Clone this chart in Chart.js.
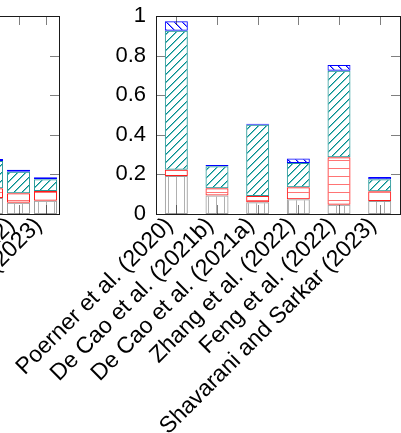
<!DOCTYPE html>
<html>
<head>
<meta charset="utf-8">
<script src="https://cdn.jsdelivr.net/npm/chart.js@4.4.0/dist/chart.umd.min.js"></script>
<style>
  html, body { margin: 0; padding: 0; background: #fff; overflow: hidden; }
  body { width: 401px; height: 433px; position: relative; }
  canvas { position: absolute; top: 0; }
  #leftChart { left: -170px; }
  #mainChart { left: 0; }
</style>
</head>
<body>
<canvas id="leftChart" width="230" height="433"></canvas>
<canvas id="mainChart" width="401" height="433"></canvas>
<script>
const categories = [
  "Poerner et al. (2020)",
  "De Cao et al. (2021b)",
  "De Cao et al. (2021a)",
  "Zhang et al. (2022)",
  "Feng et al. (2022)",
  "Shavarani and Sarkar (2023)"
];

// right panel, segments stacked bottom -> top
const grayVals = [0.192, 0.093, 0.059, 0.074, 0.047, 0.066];
const redVals  = [0.031, 0.037, 0.032, 0.061, 0.240, 0.049];
const tealVals = [0.702, 0.111, 0.360, 0.122, 0.436, 0.061];
const blueVals = [0.049, 0.007, 0.005, 0.023, 0.030, 0.011];

// left panel, only the last bars are in view
const leftGrayVals = [null, null, null, 0.081, 0.057, 0.067];
const leftRedVals  = [null, null, null, 0.049, 0.048, 0.049];
const leftTealVals = [null, null, null, 0.138, 0.108, 0.060];
const leftBlueVals = [null, null, null, 0.010, 0.010, 0.010];

const yTicks = [0, 0.2, 0.4, 0.6, 0.8, 1];

const FONT = "'Liberation Sans', Arial, sans-serif";

// 8px tiles; diagonals get a soft second pixel so the colour reads
function hatch(ctx, color, soft, kind) {
  const size = 8;
  const c = document.createElement("canvas");
  c.width = size;
  c.height = size;
  const g = c.getContext("2d");
  for (let i = 0; i < size; i++) {
    g.fillStyle = color;
    if (kind === "v") g.fillRect(0, i, 1, 1);
    else if (kind === "h") g.fillRect(i, 0, 1, 1);
    else if (kind === "ne") {
      g.fillRect(i, size - 1 - i, 1, 1);
      g.fillStyle = soft;
      g.fillRect((i + 1) % size, size - 1 - i, 1, 1);
    } else {
      g.fillRect(i, i, 1, 1);
      g.fillStyle = soft;
      g.fillRect((i + 1) % size, i, 1, 1);
    }
  }
  return ctx.createPattern(c, "repeat");
}

function makeDatasets(ctx, gray, red, teal, blue) {
  return [
    { label: "gray", data: gray, backgroundColor: hatch(ctx, "#b0b0b0", null, "v"), borderColor: "#9c9c9c" },
    { label: "red", data: red, backgroundColor: hatch(ctx, "rgba(255,70,70,0.75)", null, "h"), borderColor: "#ff1a1a" },
    { label: "teal", data: teal, backgroundColor: hatch(ctx, "#008c8c", "rgba(0,150,150,0.55)", "ne"), borderColor: "#2a9a9a" },
    { label: "blue", data: blue, backgroundColor: hatch(ctx, "#0000ff", "rgba(40,40,255,0.55)", "nw"), borderColor: "#0000ff" }
  ].map(d => Object.assign(d, { borderWidth: 1, borderSkipped: false, stack: "s" }));
}

// pgfplots-like box with inward ticks on all four sides
const framePlugin = {
  id: "frame",
  afterDatasetsDraw(chart) {
    const { ctx, chartArea: a, scales } = chart;
    ctx.save();
    ctx.lineWidth = 1;
    ctx.strokeStyle = "rgba(0,0,0,0.5)";
    ctx.beginPath();
    scales.y.ticks.forEach(t => {
      const y = Math.round(scales.y.getPixelForValue(t.value)) + 0.5;
      ctx.moveTo(a.left, y); ctx.lineTo(a.left + 9, y);
      ctx.moveTo(a.right, y); ctx.lineTo(a.right - 9, y);
    });
    scales.x.ticks.forEach((t, i) => {
      const x = Math.round(scales.x.getPixelForTick(i)) + 0.5;
      ctx.moveTo(x, a.top); ctx.lineTo(x, a.top + 9);
      ctx.moveTo(x, a.bottom); ctx.lineTo(x, a.bottom - 9);
    });
    ctx.stroke();
    ctx.strokeStyle = "#1a1a1a";
    ctx.strokeRect(Math.round(a.left) + 0.5, Math.round(a.top) + 0.5,
      Math.round(a.right - a.left), Math.round(a.bottom - a.top));
    ctx.restore();
  }
};

function makeOptions(yWidth, barPct) {
  return {
    responsive: false,
    animation: false,
    layout: { padding: { top: 16, right: 1, left: 0, bottom: 0 } },
    datasets: { bar: { categoryPercentage: 1, barPercentage: barPct } },
    plugins: { legend: { display: false }, tooltip: { enabled: false } },
    scales: {
      x: {
        stacked: true,
        offset: true,
        grid: { display: false, drawTicks: false },
        border: { display: false },
        ticks: {
          autoSkip: false,
          minRotation: 45,
          maxRotation: 45,
          color: "#000",
          padding: -2,
          labelOffset: -7,
          font: { family: FONT, size: 23 }
        },
        afterFit: s => {
          s.height = 219;
          s.paddingLeft = 0;
          s.paddingRight = 0;
        }
      },
      y: {
        stacked: true,
        min: 0,
        max: 1,
        grid: { display: false, drawTicks: false },
        border: { display: false },
        ticks: {
          color: "#000",
          padding: 10,
          font: { family: FONT, size: 22 },
          callback: v => String(v)
        },
        afterBuildTicks: s => { s.ticks = yTicks.map(v => ({ value: v })); },
        afterFit: s => {
          s.width = yWidth;
          s.paddingTop = 0;
          s.paddingBottom = 0;
        }
      }
    }
  };
}

const leftCtx = document.getElementById("leftChart").getContext("2d");
new Chart(leftCtx, {
  type: "bar",
  data: {
    labels: categories,
    datasets: makeDatasets(leftCtx, leftGrayVals, leftRedVals, leftTealVals, leftBlueVals)
  },
  options: makeOptions(67, 0.85),
  plugins: [framePlugin]
});

const mainCtx = document.getElementById("mainChart").getContext("2d");
new Chart(mainCtx, {
  type: "bar",
  data: {
    labels: categories,
    datasets: makeDatasets(mainCtx, grayVals, redVals, tealVals, blueVals)
  },
  options: makeOptions(156, 0.565),
  plugins: [framePlugin]
});
</script>
</body>
</html>
